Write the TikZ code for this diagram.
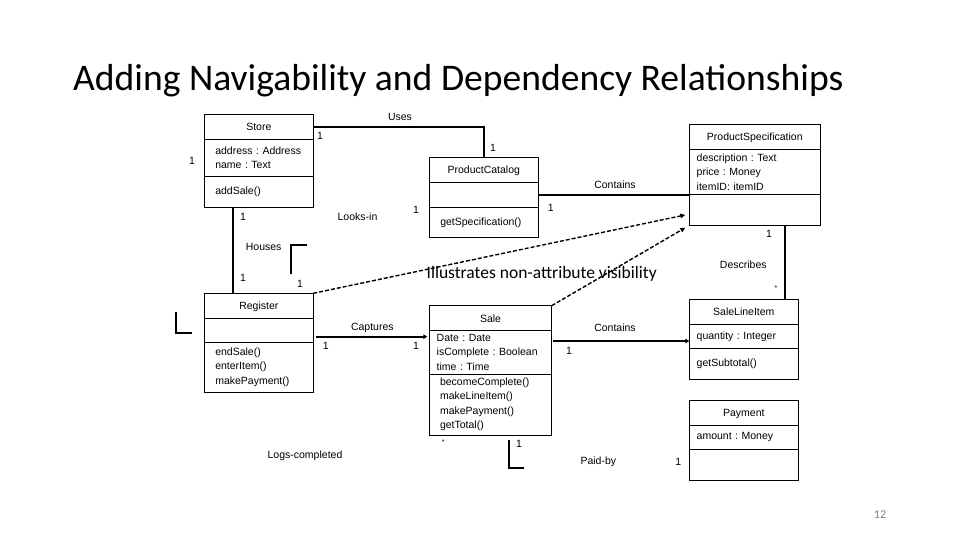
\documentclass[tikz,border=0pt]{standalone}
\usepackage{fontspec}
\setmainfont{Liberation Sans}
\newfontfamily\slidefont{Carlito}
\usepackage{tikz}
\usetikzlibrary{positioning, calc, arrows.meta}
\frenchspacing

\begin{document}
\begin{tikzpicture}
  [
    x=1pt, y=-1pt,
    every node/.style={font=\fontsize{10.5}{14.5}\selectfont\frenchspacing},
    Head/.style={draw, line width=0.8pt, outer sep=0pt, inner sep=0pt, anchor=north, minimum height=25pt, text depth=-2pt},
    Body/.style={draw, line width=0.8pt, outer sep=0pt, inner ysep=0pt, align=left},
    Assoc/.style={line width=2.2pt},
    Dep/.style={line width=1.4pt, dash pattern=on 4pt off 2pt, -{Triangle[length=5pt, width=4.5pt]}},
    Bracket/.style={line width=2pt},
    Mult/.style={inner sep=0pt}
  ]
  \useasboundingbox (0,0) rectangle (960,540);

  % Title
  \node[anchor=base west, inner sep=0pt, font=\slidefont\fontsize{37.6}{40}\selectfont] (title) at (73,91) {Adding Navigability and Dependency Relationships};

  % Classes
  \node[Head, minimum width=109pt] (storeT) at (258.8,114.3) {Store};
  \node[Body, inner xsep=11pt, text width=87pt, minimum height=36.7pt, below=0pt of storeT] (storeA) {address : Address\\name : Text};
  \node[Body, inner xsep=11pt, text width=87pt, minimum height=31.3pt, below=0pt of storeA] (storeM) {addSale()};

  \node[Head, minimum width=109pt] (catT) at (483.8,157.3) {ProductCatalog};
  \node[Body, minimum width=109pt, minimum height=25.4pt, below=0pt of catT] (catA) {};
  \node[Body, inner xsep=11pt, text width=87pt, minimum height=30pt, below=0pt of catA] (catM) {getSpecification()};

  \node[Head, minimum width=131pt] (specT) at (754.8,124.3) {ProductSpecification};
  \node[Body, inner xsep=7.4pt, text width=116.2pt, minimum height=45pt, below=0pt of specT] (specA) {description : Text\\price : Money\\itemID: itemID};
  \node[Body, minimum width=131pt, minimum height=30.7pt, below=0pt of specA] (specM) {};

  \node[Head, minimum width=109pt] (regT) at (258.8,293.3) {Register};
  \node[Body, minimum width=109pt, minimum height=23.7pt, below=0pt of regT] (regA) {};
  \node[Body, inner xsep=11pt, text width=87pt, minimum height=50.3pt, below=0pt of regA] (regM) {endSale()\\enterItem()\\makePayment()};

  \node[Head, minimum width=122.4pt] (saleT) at (490.5,305.7) {Sale};
  \node[Body, inner xsep=7.4pt, text width=107.6pt, minimum height=43.3pt, below=0pt of saleT] (saleA) {Date : Date\\isComplete : Boolean\\time : Time};
  \node[Body, inner xsep=10.7pt, text width=101pt, minimum height=61pt, below=0pt of saleA] (saleM) {becomeComplete()\\makeLineItem()\\makePayment()\\getTotal()};

  \node[Head, minimum width=109pt] (sliT) at (743.8,299.3) {SaleLineItem};
  \node[Body, inner xsep=7.4pt, text width=94.2pt, minimum height=24pt, below=0pt of sliT] (sliA) {quantity : Integer};
  \node[Body, inner xsep=7.4pt, text width=94.2pt, minimum height=31pt, below=0pt of sliA] (sliM) {getSubtotal()};

  \node[Head, minimum width=109pt, minimum height=24.6pt] (payT) at (743.8,400.7) {Payment};
  \node[Body, inner xsep=7.4pt, text width=94.2pt, minimum height=24pt, below=0pt of payT] (payA) {amount : Money};
  \node[Body, minimum width=109pt, minimum height=30.7pt, below=0pt of payA] (payM) {};

  % Association labels and multiplicities
  \node[Mult] (usesL) at (400,116.7) {Uses};
  \node[Mult] (usesA) at (320,136) {1};
  \node[Mult] (usesB) at (493,148) {1};
  \node[Mult] (storeL) at (192,161) {1};
  \node[Mult] (looksA) at (243,217) {1};
  \node[Mult] (looksL) at (357.5,216.7) {Looks-in};
  \node[Mult] (looksB) at (416,210) {1};
  \node[Mult] (contA) at (550.7,208.3) {1};
  \node[Mult] (contL) at (615,185) {Contains};
  \node[Mult] (housesL) at (263.7,247) {Houses};
  \node[Mult] (housesA) at (243,278) {1};
  \node[Mult] (housesB) at (300,284) {1};
  \node[Mult] (descA) at (769,234) {1};
  \node[Mult] (descL) at (743.3,265) {Describes};
  \node[Mult, font=\fontsize{7}{8}\selectfont] (descB) at (776,288) {*};
  \node[Mult] (capL) at (372.3,327.7) {Captures};
  \node[Mult] (capA) at (325.7,345.7) {1};
  \node[Mult] (capB) at (416,345.7) {1};
  \node[Mult] (lineL) at (615,327.3) {Contains};
  \node[Mult] (lineA) at (569,351) {1};
  \node[Mult, font=\fontsize{7}{8}\selectfont] (logsA) at (443.3,442.3) {*};
  \node[Mult] (logsB) at (519,444) {1};
  \node[Mult] (logsL) at (305,455.7) {Logs-completed};
  \node[Mult] (paidL) at (598.3,461.7) {Paid-by};
  \node[Mult] (paidA) at (678.3,461.7) {1};

  \node[anchor=base, inner sep=0pt, font=\slidefont\fontsize{17.5}{20}\selectfont] (note) at (541.7,278) {Illustrates non-attribute visibility};
  \node[text=gray, font=\slidefont\fontsize{12}{14}\selectfont] (page) at (880,515) {12};

  % Associations
  \draw[Assoc] (storeT.east) -| (catT.north);
  \draw[Assoc] ($(storeM.south)+(-26,0)$) -- ($(regT.north)+(-26,0)$);
  \draw[Assoc] (catA.east) -- (catA.east -| specA.west);
  \coordinate (descTop) at ($(specM.south)+(30.5,0)$);
  \draw[Assoc] (descTop) -- (descTop |- sliT.north);
  \coordinate (capStart) at ($(regA.east)+(3,6.5)$);
  \draw[Assoc, -{Triangle[length=4pt, width=4.5pt]}, shorten >=2pt] (capStart) -- (capStart -| saleA.west);
  \coordinate (lineStart) at ($(saleA.east)+(1.5,-11.3)$);
  \draw[Assoc, -{Triangle[length=4pt, width=4.5pt]}] (lineStart) -- (lineStart -| sliA.west);

  % Dependencies
  \draw[Dep] (regT.north east) -- ($(specM.west)+(-4,5.3)$);
  \draw[Dep] (saleT.north east) -- ($(specM.south west)+(-4,2.7)$);

  % Corner marks
  \draw[Bracket] (290.7,274) |- (306.7,245);
  \draw[Bracket] (175.7,311.7) |- (191.7,332.7);
  \draw[Bracket] (509,440) |- (524,468.3);

\end{tikzpicture}
\end{document}
